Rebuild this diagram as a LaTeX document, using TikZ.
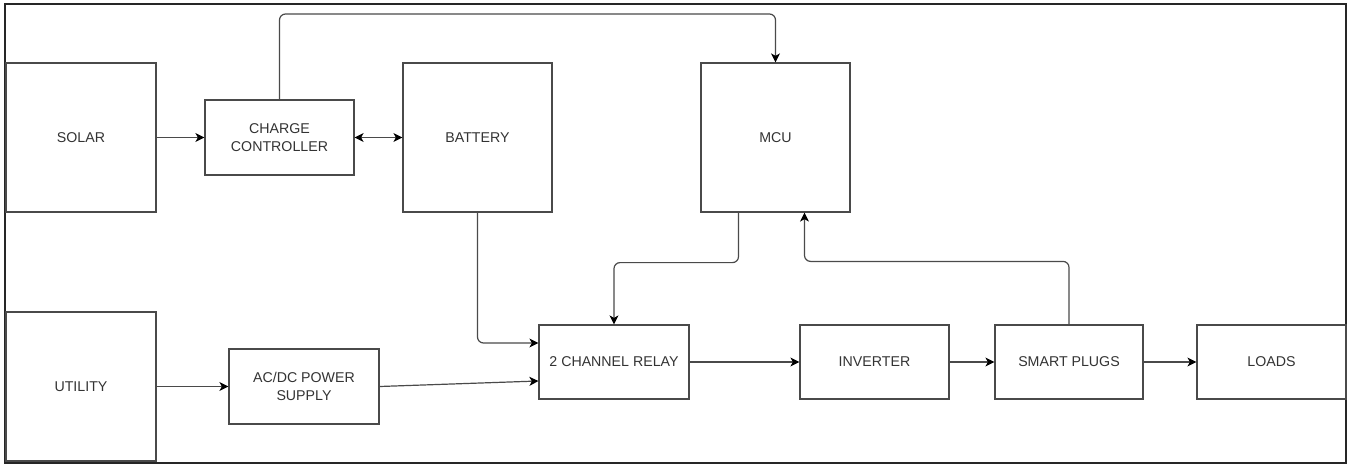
\documentclass[tikz,border=0pt]{standalone}
\usepackage{fontspec}
\setmainfont{Liberation Sans}
\usetikzlibrary{arrows.meta,calc}
\definecolor{edge}{HTML}{4A4A4A}
\definecolor{label}{HTML}{333333}
\tikzset{
  tip/.tip={Stealth[length=9pt,width=9pt,inset=2.5pt,fill=black,color=black]},
  blk/.style={draw=edge, line width=1.2pt, fill=white, inner sep=2pt,
              align=center, text=label, font=\fontsize{14.2}{18}\selectfont},
  arr/.style={draw=edge, line width=1.2pt, rounded corners=6pt, -tip},
  twoarr/.style={arr, tip-tip}
}
\begin{document}
\begin{tikzpicture}[x=1pt,y=-1pt]
  \useasboundingbox[fill=white] (0,0) rectangle (1351,465);
  % outer frame
  \draw[line width=1.5pt, black!85] (5,4) rectangle (1346,463);

  % blocks
  \node[blk, minimum width=150pt, minimum height=149pt] (solar)   at (81,137.5)    {SOLAR};
  \node[blk, minimum width=149pt, minimum height=75pt]  (cc)      at (279.5,137.5) {CHARGE\\CONTROLLER};
  \node[blk, minimum width=149pt, minimum height=149pt] (bat)     at (477.5,137.5) {BATTERY};
  \node[blk, minimum width=149pt, minimum height=149pt] (mcu)     at (775.5,137.5) {MCU};
  \node[blk, minimum width=150pt, minimum height=149pt] (util)    at (81,386.5)    {UTILITY};
  \node[blk, minimum width=150pt, minimum height=75pt]  (acdc)    at (304,386.5)   {AC/DC POWER\\SUPPLY};
  \node[blk, minimum width=150pt, minimum height=74pt]  (relay)   at (614,362)     {2 CHANNEL RELAY};
  \node[blk, minimum width=149pt, minimum height=74pt]  (inv)     at (874.5,362)   {INVERTER};
  \node[blk, minimum width=148pt, minimum height=74pt]  (plugs)   at (1069,362)    {SMART PLUGS};
  \node[blk, minimum width=149pt, minimum height=74pt]  (loads)   at (1271.5,362)  {LOADS};

  \coordinate (toprail) at (0,14);

  % connectors
  \draw[arr] (solar.east) -- (cc.west);
  \draw[twoarr] (cc.east) -- (bat.west);
  \draw[arr] (cc.north) |- (mcu.north |- toprail) -- (mcu.north);
  \draw[arr] (bat.south) |- ([yshift=19pt]relay.west);
  \draw[arr] ([xshift=-37pt]mcu.south) -- ++(0,50) -| (relay.north);
  \draw[arr] (plugs.north) -- ++(0,-63) -| ([xshift=29pt]mcu.south);
  \draw[arr] (util.east) -- (acdc.west);
  \draw[arr] (acdc.east) -- ([yshift=-19pt]relay.west);
  \draw[arr] (relay.east) -- (inv.west);
  \draw[arr] (inv.east) -- (plugs.west);
  \draw[arr] (plugs.east) -- (loads.west);
\end{tikzpicture}
\end{document}
